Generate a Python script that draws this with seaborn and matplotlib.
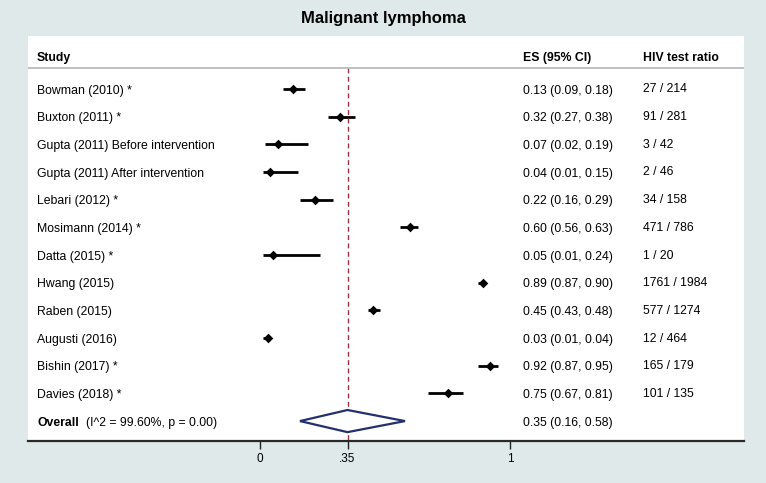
import matplotlib
matplotlib.use('Agg')
import matplotlib.pyplot as plt
import matplotlib.transforms as mtransforms
import seaborn as sns

# study data
studies = ['Bowman (2010) *', 'Buxton (2011) *', 'Gupta (2011) Before intervention',
           'Gupta (2011) After intervention', 'Lebari (2012) *', 'Mosimann (2014) *',
           'Datta (2015) *', 'Hwang (2015)', 'Raben (2015)', 'Augusti (2016)',
           'Bishin (2017) *', 'Davies (2018) *']
es = [0.13, 0.32, 0.07, 0.04, 0.22, 0.60, 0.05, 0.89, 0.45, 0.03, 0.92, 0.75]
ci_lo = [0.09, 0.27, 0.02, 0.01, 0.16, 0.56, 0.01, 0.87, 0.43, 0.01, 0.87, 0.67]
ci_hi = [0.18, 0.38, 0.19, 0.15, 0.29, 0.63, 0.24, 0.90, 0.48, 0.04, 0.95, 0.81]
hiv_tested = [27, 91, 3, 2, 34, 471, 1, 1761, 577, 12, 165, 101]
hiv_total = [214, 281, 42, 46, 158, 786, 20, 1984, 1274, 464, 179, 135]

overall_es = 0.35
overall_lo = 0.16
overall_hi = 0.58
overall_note = '(I^2 = 99.60%, p = 0.00)'

xticks = [0, 0.35, 1]
xticklabels = ['0', '.35', '1']

bg = '#dfe9ea'
sns.set_theme(style='white')
plt.rcParams['font.family'] = ['Liberation Sans', 'DejaVu Sans']
plt.rcParams['text.color'] = 'black'
plt.rcParams['xtick.color'] = 'black'

fig = plt.figure(figsize=(7.66, 4.83), dpi=100, facecolor=bg)
ax = fig.add_axes([28 / 766, 42 / 483, 716 / 766, 405 / 483])
ax.set_facecolor('white')

rows = list(range(len(studies)))
overall_row = len(studies)
header_row = -1.19
header_line = -0.76

# confidence intervals and point estimates
ax.hlines(rows, ci_lo, ci_hi, color='black', lw=2)
sns.scatterplot(x=es, y=rows, marker='D', color='black', s=24, linewidth=0, ax=ax, zorder=3)

# pooled estimate diamond
h = 0.4
ax.fill([overall_lo, overall_es, overall_hi, overall_es],
        [overall_row, overall_row - h, overall_row, overall_row + h],
        facecolor='white', edgecolor='#24306e', lw=1.6, zorder=3)

ax.vlines(overall_es, header_line, overall_row + 0.75, color='#a3303e', lw=1,
          linestyle=(0, (3.5, 2.5)), zorder=2)
ax.axhline(header_line, color='#b5b5b5', lw=1.2)

ax.set_xlim(-0.928, 1.936)
ax.set_ylim(12.72, -1.915)
ax.set_yticks([])
ax.set_xticks(xticks)
ax.set_xticklabels(xticklabels, fontsize=8.5)
ax.tick_params(axis='x', direction='out', length=6, width=1, color='#222222', pad=3,
               bottom=True)
for s in ['top', 'left', 'right']:
    ax.spines[s].set_visible(False)
ax.spines['bottom'].set_color('#2a2a2a')
ax.spines['bottom'].set_linewidth(1.6)

tr = mtransforms.blended_transform_factory(ax.transAxes, ax.transData)
tr_txt = mtransforms.offset_copy(tr, fig=fig, y=-3.3, units='points')
tr_hiv = mtransforms.offset_copy(tr, fig=fig, y=-2.5, units='points')
x_lab, x_es, x_hiv = 9 / 716, 495 / 716, 615 / 716
fs = 8.8

ax.text(x_lab, header_row, 'Study', transform=tr_txt, fontsize=fs, fontweight='bold')
ax.text(x_es, header_row, 'ES (95% CI)', transform=tr_txt, fontsize=fs, fontweight='bold')
ax.text(x_hiv, header_row, 'HIV test ratio', transform=tr_txt, fontsize=fs, fontweight='bold')

for i, name in enumerate(studies):
    ax.text(x_lab, i, name, transform=tr_txt, fontsize=fs)
    ax.text(x_es, i, f'{es[i]:.2f} ({ci_lo[i]:.2f}, {ci_hi[i]:.2f})', transform=tr_txt,
            fontsize=fs)
    ax.text(x_hiv, i, f'{hiv_tested[i]} / {hiv_total[i]}', transform=tr_hiv, fontsize=fs)

t = ax.text(x_lab, overall_row, 'Overall', transform=tr_txt, fontsize=fs, fontweight='bold')
ax.annotate(overall_note, xy=(1, 0), xycoords=t, xytext=(5, 0),
            textcoords='offset points', fontsize=fs, va='bottom')
ax.text(x_es, overall_row, f'{overall_es:.2f} ({overall_lo:.2f}, {overall_hi:.2f})',
        transform=tr_txt, fontsize=fs)

fig.text(0.5, 1 - 18 / 483, 'Malignant lymphoma', ha='center', va='center',
         fontsize=12, fontweight='bold')

fig.savefig('out.png', dpi=100, facecolor=bg)
